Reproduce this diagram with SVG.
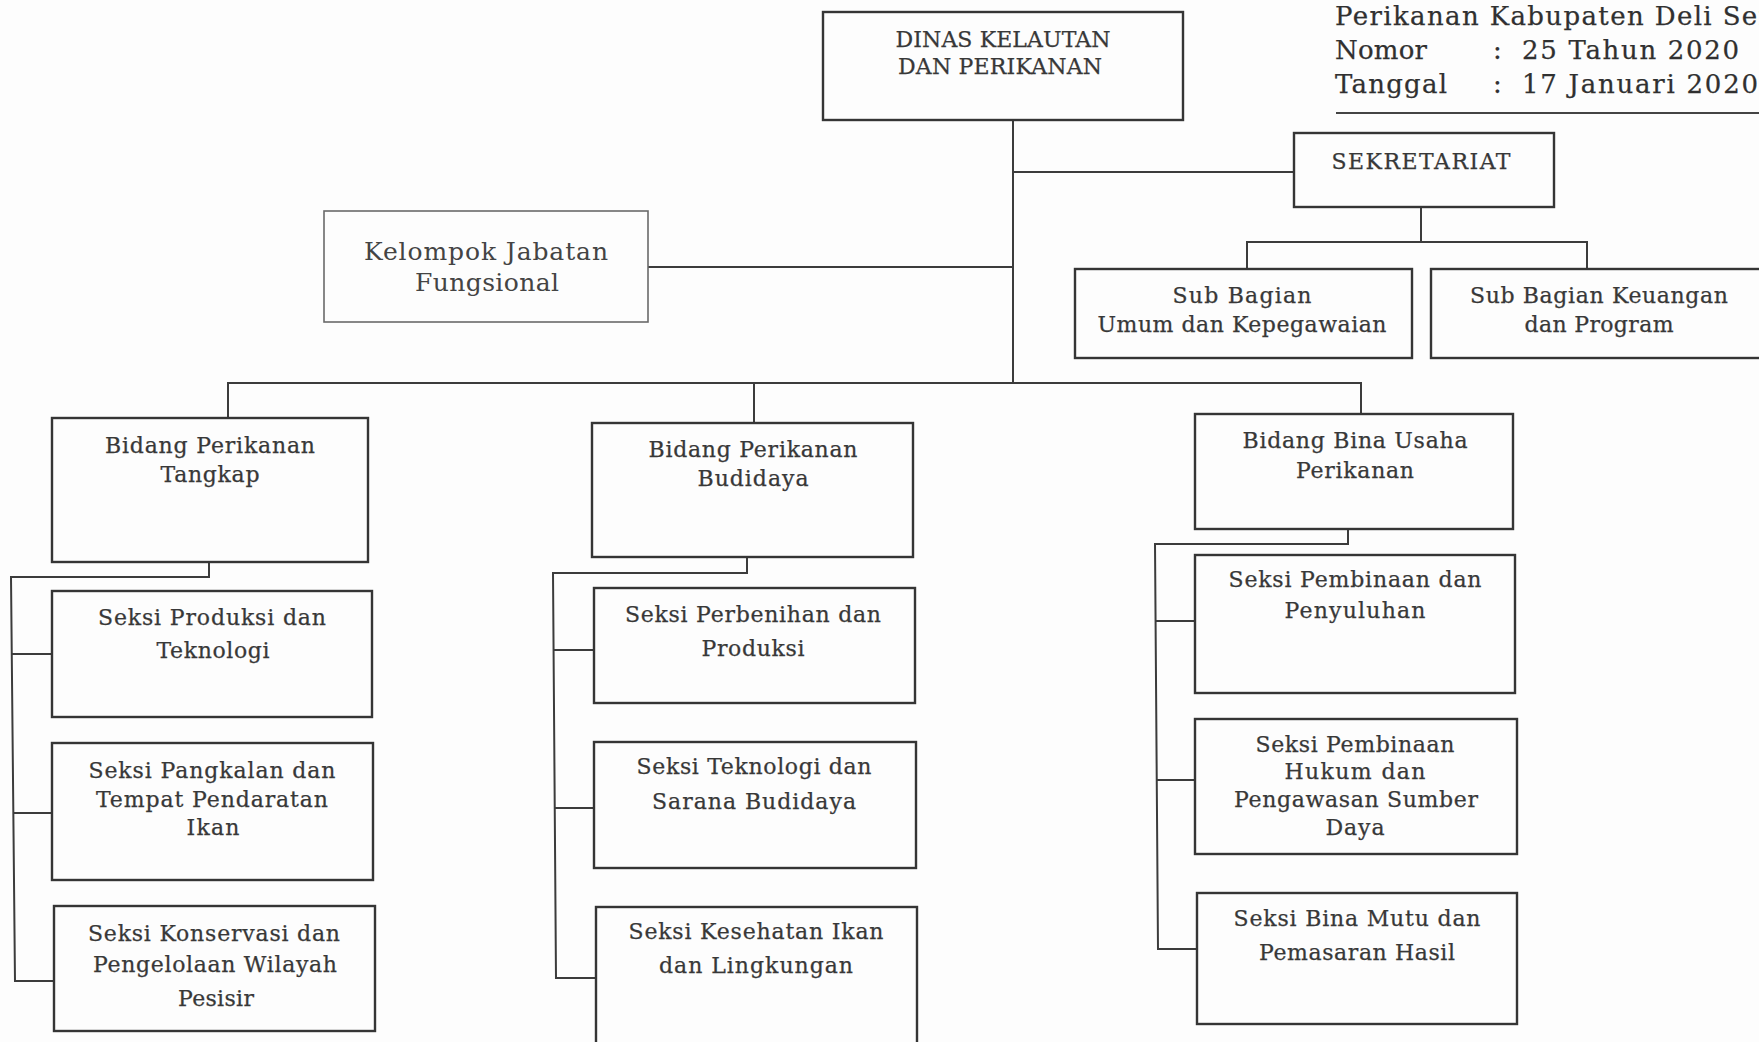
<svg xmlns="http://www.w3.org/2000/svg" width="1759" height="1042" viewBox="0 0 1759 1042">
<style>
.bx{fill:none;stroke:#353535;stroke-width:2.4}
.bl{fill:none;stroke:#6a6a6a;stroke-width:1.6}
.cn{fill:none;stroke:#3c3c3c;stroke-width:2}
text{font-family:"DejaVu Serif","Liberation Serif",serif;fill:#383838;stroke:#383838;stroke-width:0.25;font-size:22px;text-anchor:middle}
.hd{font-size:26px;text-anchor:start;fill:#303030;stroke:#303030}
.kl{font-size:25px;fill:#444;stroke:none}
</style>
<rect width="1759" height="1042" fill="#fdfdfd"/>

<g id="header">
<text class="hd" x="1335" y="25" textLength="436">Perikanan Kabupaten Deli Ser</text>
<text class="hd" x="1335" y="59" textLength="92">Nomor</text>
<text class="hd" x="1493" y="59">:</text>
<text class="hd" x="1522" y="59" textLength="217">25 Tahun 2020</text>
<text class="hd" x="1335" y="93" textLength="112">Tanggal</text>
<text class="hd" x="1493" y="93">:</text>
<text class="hd" x="1522" y="93" textLength="236">17 Januari 2020</text>
<line x1="1336" y1="113" x2="1759" y2="113" stroke="#444" stroke-width="2"/>
</g>

<g id="connectors">
<path class="cn" d="M1013 120 V383"/>
<path class="cn" d="M1013 172 H1294"/>
<path class="cn" d="M648 267 H1013"/>
<path class="cn" d="M1421 207 V242"/>
<path class="cn" d="M1247 269 V242 H1587 V269"/>
<path class="cn" d="M228 418 V383 H1361 V414"/>
<path class="cn" d="M754 383 V423"/>
<path class="cn" d="M209 562 V577 H11 L15 981 H54"/>
<path class="cn" d="M12 654 H52"/>
<path class="cn" d="M13 813 H52"/>
<path class="cn" d="M747 557 V573 H553 L556 978 H596"/>
<path class="cn" d="M554 650 H594"/>
<path class="cn" d="M555 808 H594"/>
<path class="cn" d="M1348 529 V544 H1155 L1158 949 H1197"/>
<path class="cn" d="M1156 621 H1195"/>
<path class="cn" d="M1157 780 H1195"/>
</g>

<g id="dinas">
<rect class="bx" x="823" y="12" width="360" height="108"/>
<text x="1003" y="47" textLength="215">DINAS KELAUTAN</text>
<text x="1000" y="74" textLength="204">DAN PERIKANAN</text>
</g>

<g id="sekretariat">
<rect class="bx" x="1294" y="133" width="260" height="74"/>
<text x="1421" y="169" textLength="179">SEKRETARIAT</text>
</g>

<g id="kelompok">
<rect class="bl" x="324" y="211" width="324" height="111"/>
<text class="kl" x="486" y="260" textLength="244">Kelompok Jabatan</text>
<text class="kl" x="487" y="291" textLength="144">Fungsional</text>
</g>

<g id="subumum">
<rect class="bx" x="1075" y="269" width="337" height="89"/>
<text x="1242" y="303" textLength="139">Sub Bagian</text>
<text x="1242" y="332" textLength="289">Umum dan Kepegawaian</text>
</g>

<g id="subkeuangan">
<rect class="bx" x="1431" y="269" width="340" height="89"/>
<text x="1599" y="303" textLength="258">Sub Bagian Keuangan</text>
<text x="1599" y="332" textLength="149">dan Program</text>
</g>

<g id="tangkap">
<rect class="bx" x="52" y="418" width="316" height="144"/>
<text x="210" y="453" textLength="210">Bidang Perikanan</text>
<text x="210" y="482" textLength="99">Tangkap</text>
</g>

<g id="produksi">
<rect class="bx" x="52" y="591" width="320" height="126"/>
<text x="212" y="625" textLength="228">Seksi Produksi dan</text>
<text x="213" y="658" textLength="113">Teknologi</text>
</g>

<g id="pangkalan">
<rect class="bx" x="52" y="743" width="321" height="137"/>
<text x="212" y="778" textLength="247">Seksi Pangkalan dan</text>
<text x="212" y="807" textLength="232">Tempat Pendaratan</text>
<text x="213" y="835" textLength="53">Ikan</text>
</g>

<g id="konservasi">
<rect class="bx" x="54" y="906" width="321" height="125"/>
<text x="214" y="941" textLength="252">Seksi Konservasi dan</text>
<text x="215" y="972" textLength="244">Pengelolaan Wilayah</text>
<text x="216" y="1006" textLength="76">Pesisir</text>
</g>

<g id="budidaya">
<rect class="bx" x="592" y="423" width="321" height="134"/>
<text x="753" y="457" textLength="209">Bidang Perikanan</text>
<text x="753" y="486" textLength="111">Budidaya</text>
</g>

<g id="perbenihan">
<rect class="bx" x="594" y="588" width="321" height="115"/>
<text x="753" y="622" textLength="256">Seksi Perbenihan dan</text>
<text x="753" y="656" textLength="103">Produksi</text>
</g>

<g id="teknologi">
<rect class="bx" x="594" y="742" width="322" height="126"/>
<text x="754" y="774" textLength="235">Seksi Teknologi dan</text>
<text x="754" y="809" textLength="204">Sarana Budidaya</text>
</g>

<g id="kesehatan">
<rect class="bx" x="596" y="907" width="321" height="150"/>
<text x="756" y="939" textLength="255">Seksi Kesehatan Ikan</text>
<text x="756" y="973" textLength="194">dan Lingkungan</text>
</g>

<g id="binausaha">
<rect class="bx" x="1195" y="414" width="318" height="115"/>
<text x="1355" y="448" textLength="225">Bidang Bina Usaha</text>
<text x="1355" y="478" textLength="118">Perikanan</text>
</g>

<g id="pembinaan">
<rect class="bx" x="1195" y="555" width="320" height="138"/>
<text x="1355" y="587" textLength="253">Seksi Pembinaan dan</text>
<text x="1355" y="618" textLength="141">Penyuluhan</text>
</g>

<g id="hukum">
<rect class="bx" x="1195" y="719" width="322" height="135"/>
<text x="1355" y="752" textLength="199">Seksi Pembinaan</text>
<text x="1355" y="779" textLength="141">Hukum dan</text>
<text x="1356" y="807" textLength="244">Pengawasan Sumber</text>
<text x="1355" y="835" textLength="59">Daya</text>
</g>

<g id="binamutu">
<rect class="bx" x="1197" y="893" width="320" height="131"/>
<text x="1357" y="926" textLength="247">Seksi Bina Mutu dan</text>
<text x="1357" y="960" textLength="196">Pemasaran Hasil</text>
</g>
</svg>
